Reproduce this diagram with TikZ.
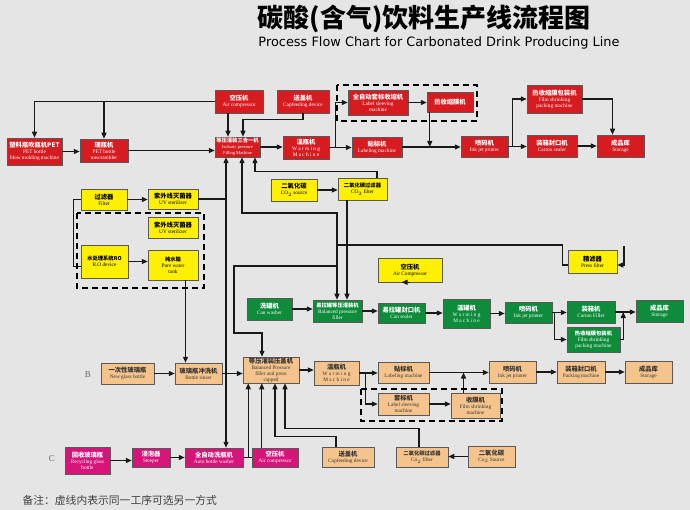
\documentclass[tikz,border=0pt]{standalone}
\usepackage{fontspec}
\setmainfont{Liberation Serif}
\newfontfamily\zh{Noto Sans CJK SC}
\newfontfamily\sans{DejaVu Sans}
\usetikzlibrary{arrows.meta,calc}
\definecolor{bg}{RGB}{229,229,229}
\definecolor{bred}{RGB}{214,28,32}
\definecolor{byel}{RGB}{255,240,0}
\definecolor{bgrn}{RGB}{14,140,60}
\definecolor{bora}{RGB}{245,196,140}
\definecolor{bmag}{RGB}{214,20,122}
\newcommand\bx[7]{%
 \pgfmathsetmacro\bxw{#5-#3}\pgfmathsetmacro\bxh{#6-#4}%
 \pgfmathsetmacro\bxx{(#3+#5)/2}\pgfmathsetmacro\bxy{-(#4+#6)/2}%
 \node[#1, minimum width=\bxw pt, minimum height=\bxh pt] (#2) at (\bxx pt,\bxy pt) {#7};}
\newcommand\zt[1]{{\zh\bfseries\fontsize{6.3}{7}\selectfont #1}}
\newcommand\zs[1]{{\zh\bfseries\fontsize{5.3}{6}\selectfont #1}}
\tikzset{
 box/.style={draw=black!65, line width=0.5pt, inner sep=0.5pt, align=center, font=\fontsize{5.3}{6}\selectfont},
 rbox/.style={box, fill=bred, text=white},
 ybox/.style={box, fill=byel, text=black},
 gbox/.style={box, fill=bgrn, text=white},
 obox/.style={box, fill=bora, text=black!80},
 mbox/.style={box, fill=bmag, text=white},
 ln/.style={line width=1.3pt, draw=black!90},
 arr/.style={ln, -{Triangle[length=6pt,width=5pt]}},
 dsh/.style={line width=1.8pt, dash pattern=on 6pt off 4pt}
}
\begin{document}
\begin{tikzpicture}[x=1pt,y=1pt]
\fill[bg] (0,0) rectangle (690,-510);
\useasboundingbox (0,0) rectangle (690,-510);
% titles
\node (t1) at (424,-19) {\zh\bfseries\fontsize{26}{28}\selectfont 碳酸(含气)饮料生产线流程图};
\node (t2) at (439,-43) {\sans\fontsize{12.9}{14}\selectfont Process Flow Chart for Carbonated Drink Producing Line};
\node[anchor=west, text=black!75] (note) at (19,-500) {\zh\fontsize{10.8}{12}\selectfont 备注：虚线内表示同一工序可选另一方式};
\node[text=black!60] (lB) at (88,-375) {\fontsize{9}{10}\selectfont B};
\node[text=black!60] (lC) at (52,-459) {\fontsize{9}{10}\selectfont C};
% ---- row A (red)
\bx{rbox}{bm}{7}{138}{62}{165}{\zt{塑料瓶吹瓶机PET}\\PET bottle\\blow molding machine}
\bx{rbox}{us}{80}{139}{128}{162}{\zt{理瓶机}\\PET bottle\\unscrambler}
\bx{rbox}{ac1}{215}{90}{263}{113}{\zt{空压机}\\Air compressor}
\bx{rbox}{fill}{215}{137}{260}{157}{\zs{等压灌装三合一机}\\{\fontsize{4.5}{5}\selectfont Isobaric pressure}\\{\fontsize{4.5}{5}\selectfont Filling Machine}}
\bx{rbox}{cf1}{277}{90}{329}{113}{\zt{送盖机}\\Capfeeding device}
\bx{rbox}{wm1}{283}{136}{329}{159}{\zt{温瓶机}\\W a r m i n g\\M a c h i n e}
\bx{rbox}{ls1}{348}{90}{408}{115}{\zt{全自动套标收缩机}\\Label sleeving\\machine}
\bx{rbox}{hs1}{427}{92}{473}{112}{\zt{热收缩膜机}}
\bx{rbox}{lb1}{352}{137}{402}{157}{\zt{贴标机}\\Labeling machine}
\bx{rbox}{ij1}{461}{136}{508}{157}{\zt{喷码机}\\Ink jet printer}
\bx{rbox}{fp1}{527}{85}{582}{113}{\zt{热收缩膜包装机}\\Film shrinking\\packing machine}
\bx{rbox}{cs1}{527}{135}{577}{157}{\zt{装箱封口机}\\Carton sealer}
\bx{rbox}{st1}{597}{135}{644}{157}{\zt{成品库}\\Storage}
% ---- yellow
\bx{ybox}{co2s}{271}{179}{317}{201}{\zt{二氧化碳}\\CO$_2$ source}
\bx{ybox}{co2f}{338}{178}{387}{200}{\zs{二氧化碳过滤器}\\CO$_2$ filter}
\bx{ybox}{flt}{81}{189}{127}{210}{\zt{过滤器}\\Filter}
\bx{ybox}{uv1}{148}{189}{198}{209}{\zt{紫外线灭菌器}\\UV sterilizer}
\bx{ybox}{uv2}{148}{217}{198}{238}{\zt{紫外线灭菌器}\\UV sterilizer}
\bx{ybox}{ro}{81}{245}{128}{278}{\zs{水处理系统RO}\\R.O device}
\bx{ybox}{pwt}{148}{250}{198}{280}{\zs{纯水箱}\\Pure water\\tank}
\bx{ybox}{acy}{378}{258}{442}{282}{\zt{空压机}\\Air Compressor}
\bx{ybox}{pf}{568}{250}{617}{273}{\zt{精滤器}\\Press filter}
% ---- green
\bx{gbox}{cw}{247}{298}{292}{320}{\zt{洗罐机}\\Can washer}
\bx{gbox}{cfl}{313}{300}{362}{322}{\zs{易拉罐等压灌装机}\\Balanced pressure\\filler}
\bx{gbox}{csl}{378}{303}{425}{323}{\zt{易拉罐封口机}\\Can sealer}
\bx{gbox}{wm3}{443}{299}{490}{328}{\zt{温罐机}\\W a r m i n g\\M a c h i n e}
\bx{gbox}{ij3}{505}{302}{552}{323}{\zt{喷码机}\\Ink jet printer}
\bx{gbox}{cf3}{567}{301}{615}{323}{\zt{装箱机}\\Carton Filler}
\bx{gbox}{fp3}{567}{327}{620}{352}{\zs{热收缩膜包装机}\\Film shrinking\\packing machine}
\bx{gbox}{st3}{636}{300}{683}{322}{\zt{成品库}\\Storage}
% ---- orange
\bx{obox}{ng}{101}{363}{154}{384}{\zt{一次性玻璃瓶}\\New glass bottle}
\bx{obox}{br}{175}{363}{222}{384}{\zt{玻璃瓶冲洗机}\\Bottle rinser}
\bx{obox}{bf}{243}{357}{299}{383}{\zt{等压灌装压盖机}\\Balanced Pressure\\filler and press\\capped}
\bx{obox}{wm2}{314}{361}{359}{385}{\zt{温瓶机}\\W a r m i n g\\M a c h i n e}
\bx{obox}{lb2}{378}{362}{429}{383}{\zt{贴标机}\\Labeling machine}
\bx{obox}{sl2}{378}{393}{429}{415}{\zt{套标机}\\Label sleeving\\machine}
\bx{obox}{fs2}{451}{393}{500}{418}{\zt{收膜机}\\Film shrinking\\machine}
\bx{obox}{ij2}{489}{361}{536}{383}{\zt{喷码机}\\Ink jet printer}
\bx{obox}{pk2}{557}{361}{605}{383}{\zt{装箱封口机}\\Packing machine}
\bx{obox}{st2}{625}{361}{672}{383}{\zt{成品库}\\Storage}
\bx{obox}{cf2}{322}{447}{374}{467}{\zt{送盖机}\\Capfeeding device}
\bx{obox}{co2f2}{396}{447}{448}{467}{\zs{二氧化碳过滤器}\\Co$_2$ filter}
\bx{obox}{co2s2}{468}{446}{515}{467}{\zt{二氧化碳}\\Co$_2$ Source}
% ---- magenta
\bx{mbox}{rg}{65}{447}{110}{474}{\zt{回收玻璃瓶}\\Recycling glass\\bottle}
\bx{mbox}{sp}{132}{448}{170}{467}{\zt{浸泡器}\\Steeper}
\bx{mbox}{aw}{185}{448}{243}{467}{\zt{全自动洗瓶机}\\Auto bottle washer}
\bx{mbox}{ac3}{252}{448}{298}{467}{\zt{空压机}\\Air compressor}
% ---- connectors row A
\draw[arr] (ac1.west) -| (bm.north);
\draw[arr] (ac1.west) -| (us.north);
\draw[arr] (bm.east) -- (bm.east -| us.west);
\draw[arr] (us.east) -- (us.east -| fill.west);
\draw[arr] ([xshift=-11pt]ac1.south) -- ([xshift=-11pt]ac1.south |- fill.north);
\draw[arr] (cf1.south) -- ++(0,-6) -| ([xshift=5.5pt]fill.north);
\draw[arr] (fill.east) -- (fill.east -| wm1.west);
\draw[arr] (wm1.east) -- (wm1.east -| lb1.west);
\draw[arr] (wm1.east) ++(6,0) |- (ls1.west);
\draw[arr] (ls1.east) -- (ls1.east -| hs1.west);
\draw[arr] ([xshift=3pt]hs1.south west) -- ([xshift=3pt]hs1.south west |- lb1.east);
\draw[arr] (lb1.east) -- (lb1.east -| ij1.west);
\draw[arr] (ij1.east) -- (ij1.east -| cs1.west);
\draw[arr] (ij1.east) ++(4,0) |- (fp1.west);
\draw[arr] (cs1.east) -- (cs1.east -| st1.west);
\draw[arr] (fp1.east) -| ([xshift=-8pt]st1.north);
\draw[dsh] (337,-85) rectangle (477,-121);
% ---- yellow connectors
\coordinate (wl) at (226,-199);
\draw[arr] (co2s.east) -- (co2s.east -| co2f.west);
\draw[arr] ([xshift=14.5pt]co2f.north) -- ++(0,6) -| ([xshift=17.5pt]fill.south);
\draw[arr] ([xshift=-15.5pt]co2f.south) -- ([xshift=-15.5pt]co2f.south |- cfl.north);
\draw[arr] (flt.east) -- (flt.east -| uv1.west);
\draw[ln] (uv1.east) -- (wl);
\draw[arr] (wl) -- (wl |- fill.south);
\draw[arr] (wl) -- (wl |- aw.north);
\draw[ln] (flt.west) -- ++(-7,0) |- ([yshift=-5pt]ro.west);
\draw[arr] (ro.east) -- (ro.east -| pwt.west);
\draw[arr] ([xshift=-13pt]br.north |- pwt.south) -- ([xshift=-13pt]br.north);
\draw[dsh] (77,-213) rectangle (204,-288);
% ---- press filter / supply line
\coordinate (sy) at (337,-245);
\coordinate (sa) at (337,-213);
\coordinate (sb) at (337,-266);
\coordinate (jb) at (234,-333);
\coordinate (psrc) at (624,-246);
\draw[arr] (psrc) |- ([yshift=-3.5pt]pf.east);
\draw[ln] ([yshift=-3.5pt]pf.west) -- ++(-5,0) |- (sy);
\draw[arr] (sy) -- (sa) -| ([xshift=4.5pt]fill.south);
\draw[arr] (sy) -- (sy |- cfl.north);
\draw[arr] (sb) -| (jb) -| ([xshift=-9pt]bf.north);
% ---- green connectors
\draw[arr] (cw.east) -- (cw.east -| cfl.west);
\draw[arr] (cfl.east) -- (cfl.east -| csl.west);
\draw[arr] (acy.south) -- (acy.south -| csl.north);
\draw[arr] (csl.east) -- (csl.east -| wm3.west);
\draw[arr] (wm3.east) -- (wm3.east -| ij3.west);
\draw[arr] (ij3.east) -- (ij3.east -| cf3.west);
\draw[arr] (ij3.east) ++(2,0) |- (fp3.west);
\draw[arr] (cf3.east) -- (cf3.east -| st3.west);
\draw[arr] (fp3.east) -| ([xshift=8pt]cf3.east);
% ---- orange connectors
\draw[arr] (ng.east) -- (ng.east -| br.west);
\draw[arr] (br.east) -- (br.east -| bf.west);
\draw[arr] (bf.east) -- (bf.east -| wm2.west);
\draw[arr] (wm2.east) -- (wm2.east -| lb2.west);
\draw[arr] (wm2.east) ++(6,0) |- (sl2.west);
\draw[arr] (sl2.east) -- (sl2.east -| fs2.west);
\draw[arr] ([xshift=-12pt]fs2.north) -- ([xshift=-12pt]fs2.north |- lb2.east);
\draw[arr] (lb2.east) -- (lb2.east -| ij2.west);
\draw[arr] (ij2.east) -- (ij2.east -| pk2.west);
\draw[arr] (pk2.east) -- (pk2.east -| st2.west);
\draw[dsh] (361,-389) rectangle (502,-421);
\draw[arr] (co2s2.west) -- (co2s2.west -| co2f2.east);
\draw[arr] ([xshift=-3pt]co2f2.north) -- ++(0,18) -| ([xshift=14pt]bf.south);
\draw[arr] ([xshift=-12pt]cf2.north) -- ++(0,10) -| ([xshift=4pt]bf.south);
\draw[arr] ([xshift=10pt]ac3.north west) -- ([xshift=10pt]ac3.north west |- bf.south);
\draw[ln] (aw.east) -- (ac3.west);
\draw[arr] ([xshift=5pt]aw.east) -- ([xshift=5pt]aw.east |- bf.south);
% ---- magenta connectors
\draw[arr] (rg.east) -- (rg.east -| sp.west);
\draw[arr] (sp.east) -- (sp.east -| aw.west);
\end{tikzpicture}
\end{document}
